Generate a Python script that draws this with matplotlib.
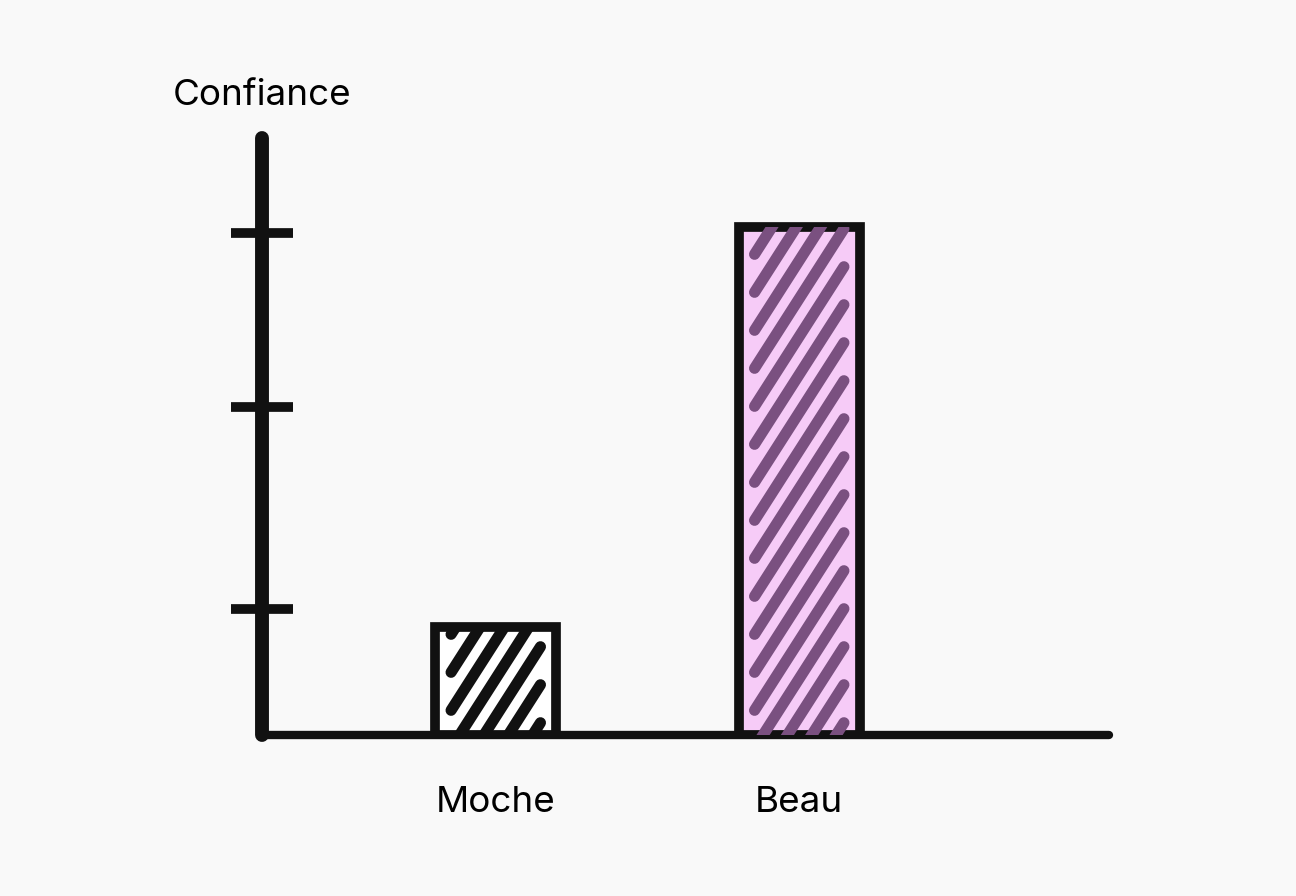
import matplotlib
matplotlib.use('Agg')
import matplotlib.pyplot as plt
import numpy as np
from matplotlib.lines import Line2D
from matplotlib.transforms import IdentityTransform

plt.rcParams['font.family'] = ['Inter', 'DejaVu Sans']

categories = ['Moche', 'Beau']
values = [18, 85]
y_ticks = [21, 55, 84]
fills = ['#ffffff', '#f6cbf7']
stripe_colors = ['#111111', '#7a5080']

bg = '#f9f9f9'
fig = plt.figure(figsize=(12.96, 8.96), dpi=100, facecolor=bg)
ax = fig.add_axes([0.202, 0.180, 0.654, 0.666])
ax.set_facecolor(bg)

x = np.arange(len(categories))
bars = ax.bar(x, values, width=0.40, color=fills, edgecolor='#111111', linewidth=7, zorder=2)

ax.set_xlim(-0.771, 2.022)
ax.set_ylim(0, 100)

for s in ['top', 'right']:
    ax.spines[s].set_visible(False)
ax.spines['left'].set_linewidth(10)
ax.spines['bottom'].set_linewidth(6)
for s in ['left', 'bottom']:
    ax.spines[s].set_color('#111111')
    ax.spines[s].set_capstyle('round')

ax.set_yticks(y_ticks)
ax.set_yticklabels([])
ax.tick_params(axis='y', direction='inout', length=44, width=7, color='#111111')
ax.set_xticks(x)
ax.set_xticklabels(categories, fontsize=26.5)
ax.tick_params(axis='x', length=0, pad=37)

fig.text(0.133, 0.893, 'Confiance', fontsize=26.5, ha='left', va='center')

# hand-drawn looking diagonal stripes inside each bar
for bar, c in zip(bars, stripe_colors):
    bb = bar.get_window_extent()
    x0, x1, y0, y1 = bb.x0, bb.x1, bb.y0, bb.y1
    w = x1 - x0
    rise = w * 1.15
    for yb in np.arange(y0 - rise + 12, y1, 38):
        ln = Line2D([x0 + 16, x1 - 16], [yb, yb + rise], transform=IdentityTransform(),
                    color=c, linewidth=8, solid_capstyle='round', zorder=3)
        ln.set_clip_path(bar)
        fig.add_artist(ln)

fig.savefig('out.png', dpi=100, facecolor=bg)
